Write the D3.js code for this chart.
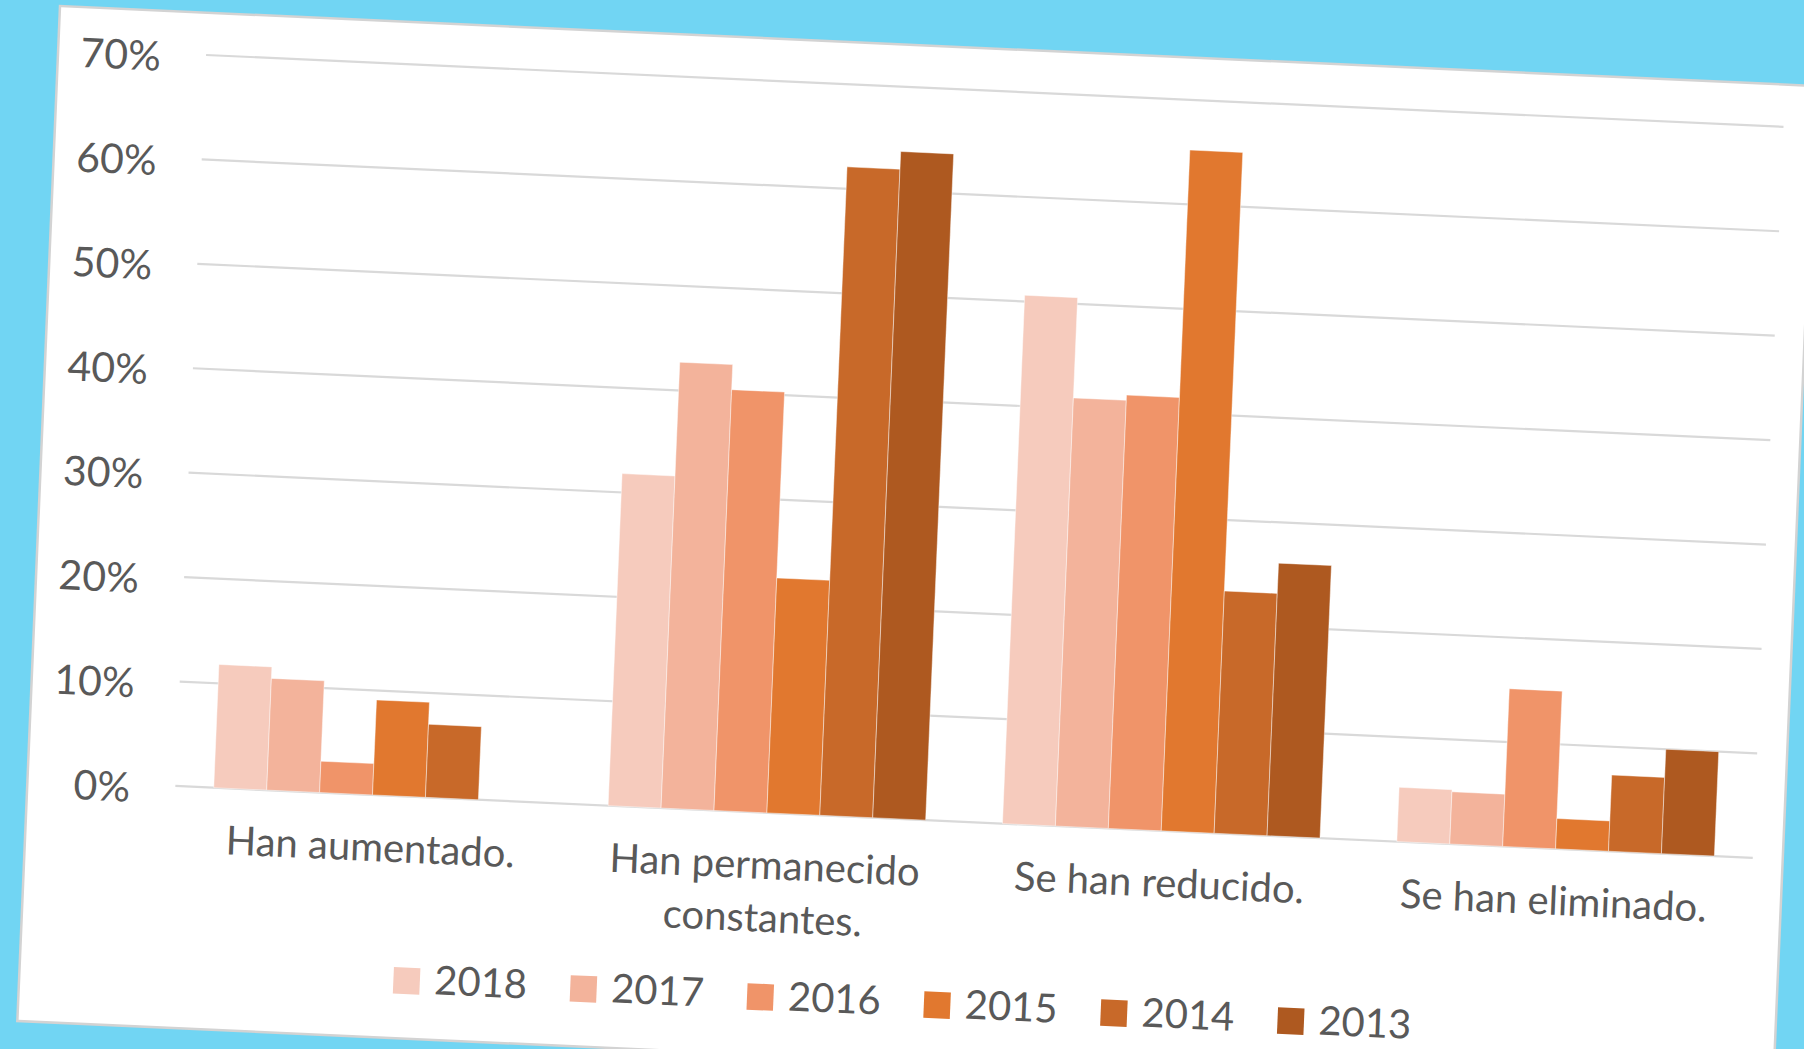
<!DOCTYPE html>
<html>
<head>
<meta charset="utf-8">
<script src="https://cdn.jsdelivr.net/npm/d3@7"></script>
<style>
  html, body { margin: 0; padding: 0; background: #71d5f3; }
  svg { display: block; }
  text { font-family: Lato, "Open Sans", sans-serif; fill: #595959; }
</style>
</head>
<body>
<svg id="chart" width="1804" height="1049"></svg>
<script>
// ---------------- data ----------------
const categories = ["Han aumentado.", "Han permanecido constantes.", "Se han reducido.", "Se han eliminado."];
const years = ["2018", "2017", "2016", "2015", "2014", "2013"];
const values2018 = [11.8, 31.8, 50.6, 5.2];
const values2017 = [10.7, 42.7, 41.0, 5.0];
const values2016 = [3.0, 40.3, 41.5, 15.1];
const values2015 = [9.1, 22.5, 65.2, 2.9];
const values2014 = [7.0, 62.1, 23.2, 7.3];
const values2013 = [0.0, 63.8, 26.1, 10.0];
const yTicks = [0, 10, 20, 30, 40, 50, 60, 70];
const yTickLabels = ["0%", "10%", "20%", "30%", "40%", "50%", "60%", "70%"];

const seriesValues = {
  "2018": values2018, "2017": values2017, "2016": values2016,
  "2015": values2015, "2014": values2014, "2013": values2013
};
const palette = ["#f6cbbd", "#f3b39b", "#f09469", "#e1782f", "#c86929", "#ae5920"];

// ---------------- layout ----------------
const svg = d3.select("#chart");
svg.append("rect").attr("width", 1804).attr("height", 1049).attr("fill", "#71d5f3");

// the photographed sheet is slightly rotated
const sheet = svg.append("g")
  .attr("transform", "matrix(0.999,0.0455,-0.042,0.999,60,6)");

sheet.append("rect")
  .attr("x", 0).attr("y", 0)
  .attr("width", 1757).attr("height", 1016)
  .attr("fill", "#ffffff")
  .attr("stroke", "#d3d3d3")
  .attr("stroke-width", 2.5);

const plotLeft = 148, plotRight = 1727, plotTop = 42.3, plotBottom = 774;

const x0 = d3.scaleBand().domain(categories).range([plotLeft, plotRight]).padding(0);
const x1 = d3.scaleBand().domain(years).range([0, x0.bandwidth()]).paddingInner(0).paddingOuter(0.726);
const y = d3.scaleLinear().domain([0, 70]).range([plotBottom, plotTop]);
const color = d3.scaleOrdinal().domain(years).range(palette);

// gridlines
sheet.append("g")
  .selectAll("line")
  .data(yTicks)
  .join("line")
  .attr("x1", plotLeft).attr("x2", plotRight)
  .attr("y1", d => y(d)).attr("y2", d => y(d))
  .attr("stroke", "#d9d9d9")
  .attr("stroke-width", 2.2);

// y axis labels
const yAxis = d3.axisLeft(y)
  .tickValues(yTicks)
  .tickFormat((d, i) => yTickLabels[i])
  .tickSize(0)
  .tickPadding(45);
const yAxisG = sheet.append("g")
  .attr("transform", `translate(${plotLeft},0)`)
  .call(yAxis);
yAxisG.select(".domain").remove();
yAxisG.selectAll("text")
  .attr("font-family", "Lato, sans-serif")
  .attr("font-size", 41)
  .attr("fill", "#595959")
  .attr("dy", "0.42em");

// bars
const groups = sheet.append("g")
  .selectAll("g")
  .data(categories)
  .join("g")
  .attr("transform", d => `translate(${x0(d)},0)`);

groups.selectAll("rect")
  .data((c, ci) => years.map(yr => ({ year: yr, value: seriesValues[yr][ci] })))
  .join("rect")
  .attr("x", d => x1(d.year))
  .attr("width", x1.bandwidth())
  .attr("y", d => y(d.value))
  .attr("height", d => y(0) - y(d.value))
  .attr("fill", d => color(d.year))
  .attr("stroke", "#ffffff")
  .attr("stroke-opacity", 0.55)
  .attr("stroke-width", 0.8);

// category labels (wrapped)
const xAxis = d3.axisBottom(x0).tickSize(0).tickPadding(0);
const xAxisG = sheet.append("g")
  .attr("transform", `translate(0,${plotBottom})`)
  .call(xAxis);
xAxisG.select(".domain").remove();
xAxisG.selectAll("text")
  .attr("font-family", "Lato, sans-serif")
  .attr("font-size", 40)
  .attr("fill", "#595959")
  .attr("y", 0)
  .attr("dy", 0)
  .each(function (d) {
    const t = d3.select(this);
    const words = d.split(" ");
    const maxW = 370;
    t.text(null);
    let line = [];
    let lines = [];
    const probe = t.append("tspan");
    words.forEach(w => {
      const test = line.concat([w]).join(" ");
      probe.text(test);
      if (probe.node().getComputedTextLength() > maxW && line.length) {
        lines.push(line.join(" "));
        line = [w];
      } else {
        line.push(w);
      }
    });
    lines.push(line.join(" "));
    probe.remove();
    lines.forEach((ln, i) => {
      t.append("tspan")
        .attr("x", 0)
        .attr("y", 66 + i * 53)
        .text(ln);
    });
  });

// legend
const legend = sheet.append("g").attr("transform", "translate(374,941)");
const item = legend.selectAll("g")
  .data(years)
  .join("g")
  .attr("transform", (d, i) => `translate(${i * 177},0)`);
item.append("rect")
  .attr("y", 4)
  .attr("width", 26.5).attr("height", 26.5)
  .attr("fill", d => color(d));
item.append("text")
  .attr("x", 41)
  .attr("y", 15)
  .attr("dy", "0.36em")
  .attr("font-size", 40)
  .text(d => d);
</script>
</body>
</html>
